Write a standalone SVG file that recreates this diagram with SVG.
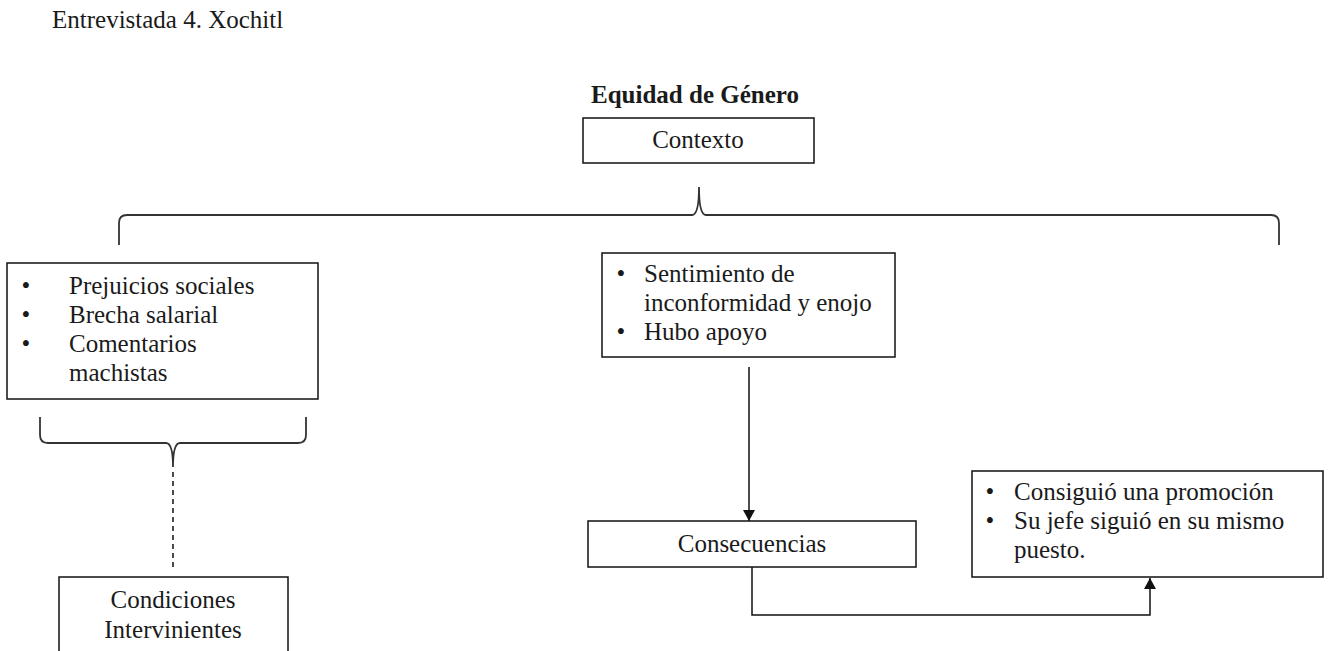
<svg xmlns="http://www.w3.org/2000/svg" width="1333" height="651" viewBox="0 0 1333 651">
<style>
text{font-family:"Liberation Serif","Times New Roman",serif;font-size:25px;fill:#1a1a1a}
.b{font-weight:bold}
.box{fill:#fff;stroke:#111;stroke-width:1.5}
.br{fill:none;stroke:#333;stroke-width:1.8}
.ln{fill:none;stroke:#111;stroke-width:1.5}
.mid{text-anchor:middle}
</style>
<defs>
<marker id="ah" markerWidth="12" markerHeight="12" refX="11" refY="6" orient="auto" markerUnits="userSpaceOnUse" viewBox="0 0 12 12">
<path d="M0,0 L11,6 L0,12 Z" fill="#111"/>
</marker>
</defs>
<rect width="1333" height="651" fill="#fff"/>
<text x="52" y="28">Entrevistada 4. Xochitl</text>
<text class="b mid" x="695" y="103">Equidad de Género</text>

<g id="connectors">
<path class="br" d="M119,245 L119,223 Q119,215 127,215 L692,215 Q699,215 699,187 Q699,215 706,215 L1271,215 Q1279,215 1279,223 L1279,245"/>
<path class="br" d="M40,417 L40,435 Q40,443 48,443 L166,443 Q173,443 173,467 Q173,443 180,443 L298,443 Q306,443 306,435 L306,417"/>
<line class="ln" x1="173" y1="472" x2="173" y2="570" stroke-dasharray="5,4"/>
<line class="ln" x1="749" y1="367" x2="749" y2="521" marker-end="url(#ah)"/>
<polyline class="ln" points="752,567 752,615 1150,615 1150,578" marker-end="url(#ah)"/>
</g>

<g id="contexto">
<rect class="box" x="583" y="118" width="231" height="45"/>
<text class="mid" x="698" y="148">Contexto</text>
</g>

<g id="factores">
<rect class="box" x="7" y="263" width="311" height="136"/>
<text x="21.5" y="294">•</text><text x="69" y="294">Prejuicios sociales</text>
<text x="21.5" y="323">•</text><text x="69" y="323">Brecha salarial</text>
<text x="21.5" y="352">•</text><text x="69" y="352">Comentarios</text>
<text x="69" y="381">machistas</text>
</g>

<g id="sentimiento">
<rect class="box" x="602" y="253" width="293" height="104"/>
<text x="616.5" y="282">•</text><text x="644" y="282">Sentimiento de</text>
<text x="644" y="311">inconformidad y enojo</text>
<text x="616.5" y="340">•</text><text x="644" y="340">Hubo apoyo</text>
</g>

<g id="consecuencias">
<rect class="box" x="588" y="521" width="328" height="46"/>
<text class="mid" x="752" y="552">Consecuencias</text>
</g>

<g id="resultados">
<rect class="box" x="972" y="471" width="351" height="106"/>
<text x="985.5" y="500">•</text><text x="1014" y="500">Consiguió una promoción</text>
<text x="985.5" y="529">•</text><text x="1014" y="529">Su jefe siguió en su mismo</text>
<text x="1014" y="558">puesto.</text>
</g>

<g id="condiciones">
<rect class="box" x="59" y="577" width="229" height="90"/>
<text class="mid" x="173" y="608">Condiciones</text>
<text class="mid" x="173" y="638">Intervinientes</text>
</g>
</svg>
